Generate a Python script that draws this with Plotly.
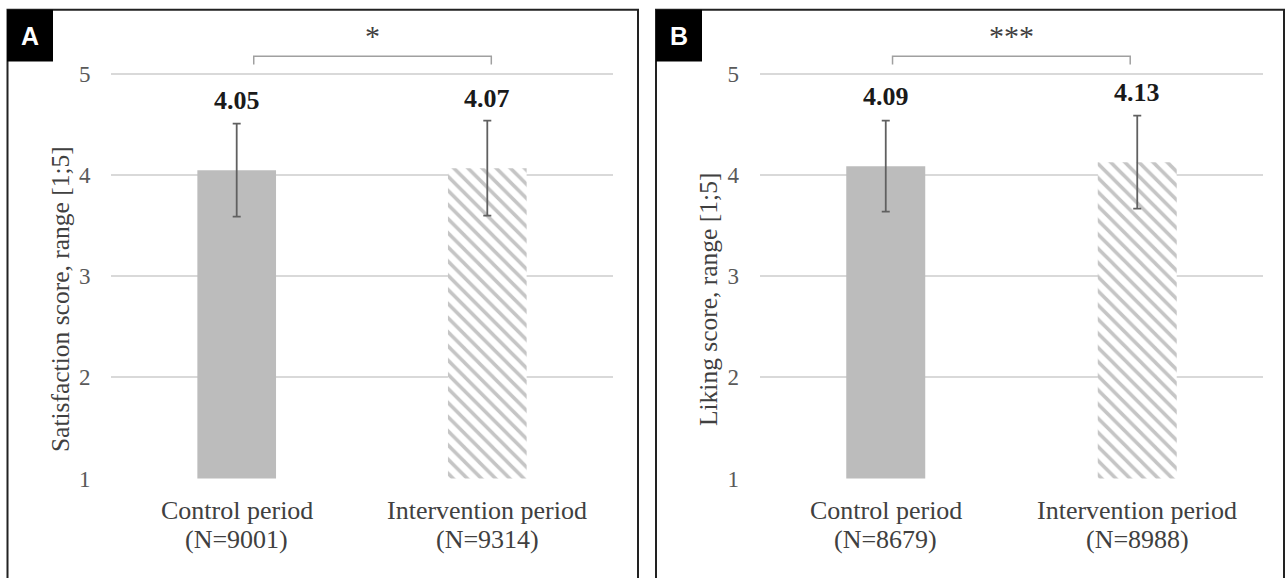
import plotly.graph_objects as go

# ---- data ----
categories = ["Control period", "Intervention period"]
n_satisfaction = ["(N=9001)", "(N=9314)"]
n_liking = ["(N=8679)", "(N=8988)"]
satisfaction_mean = [4.05, 4.07]
satisfaction_sd = [0.46, 0.47]
liking_mean = [4.09, 4.13]
liking_sd = [0.45, 0.46]
significance = ["*", "***"]
panel_letters = ["A", "B"]
y_titles = ["Satisfaction score, range [1;5]", "Liking score, range [1;5]"]
y_ticks = [1, 2, 3, 4, 5]

W, H = 1287, 578
def px(x):
    return x / W
def py(y):
    return 1 - y / H

SERIF = "Liberation Serif, Times New Roman, serif"
SANS = "Liberation Sans, Arial, sans-serif"
TXT = "#404040"

fig = go.Figure()

panels = [
    dict(means=satisfaction_mean, sds=satisfaction_sd, ns=n_satisfaction,
         xa="x", ya="y", dom=(111.4, 612.6), frame=(7.5, 638), box=(7, 53),
         ytitle_x=60, br=(0.068, 1.016)),
    dict(means=liking_mean, sds=liking_sd, ns=n_liking,
         xa="x2", ya="y2", dom=(760.0, 1263.0), frame=(656, 1284), box=(656, 702),
         ytitle_x=708, br=(0.027, 0.972)),
]

shapes = []
annotations = []

for i, p in enumerate(panels):
    for j, c in enumerate(categories):
        if j == 0:
            marker = dict(color="#bcbcbc", line=dict(width=0))
        else:
            marker = dict(color="#ffffff", line=dict(width=0),
                          pattern=dict(shape="\\", fgcolor="#8c8c8c", bgcolor="#ffffff",
                                       size=10, solidity=0.36, fillmode="overlay"))
        fig.add_trace(go.Bar(
            x=[c], y=[p["means"][j]], xaxis=p["xa"], yaxis=p["ya"],
            width=0.314, marker=marker,
            error_y=dict(type="data", array=[p["sds"][j]], visible=True,
                         color="#606060", thickness=1.8, width=4),
            showlegend=False, hoverinfo="skip",
        ))
    xref = p["xa"]
    yref = p["ya"]
    # value labels
    for c, m in zip(categories, p["means"]):
        annotations.append(dict(
            x=c, y=m + 0.69, xref=xref, yref=yref, text=f"<b>{m:.2f}</b>",
            showarrow=False, font=dict(family=SERIF, size=26, color="#1a1a1a"),
            xanchor="center", yanchor="middle"))
    # x category labels (two lines)
    for c, n in zip(categories, p["ns"]):
        annotations.append(dict(
            x=c, y=py(522), xref=xref, yref="paper", text=c, showarrow=False,
            font=dict(family=SERIF, size=26, color=TXT),
            xanchor="center", yanchor="middle"))
        annotations.append(dict(
            x=c, y=py(552), xref=xref, yref="paper", text=n, showarrow=False,
            font=dict(family=SERIF, size=26, color=TXT),
            xanchor="center", yanchor="middle"))
    # y title
    annotations.append(dict(
        x=px(p["ytitle_x"]), y=py(306), xref="paper", yref="paper",
        text=y_titles[i], textangle=-90, showarrow=False,
        font=dict(family=SERIF, size=25.5, color=TXT),
        xanchor="center", yanchor="middle"))
    # significance bracket
    x0, x1 = p["br"]
    shapes.append(dict(
        type="path", xref=xref, yref=yref,
        path=f"M {x0},5.097 L {x0},5.177 L {x1},5.177 L {x1},5.097",
        line=dict(color="#a0a0a0", width=1.5)))
    annotations.append(dict(
        x=(x0 + x1) / 2, y=5.38, xref=xref, yref=yref, text=significance[i],
        showarrow=False, font=dict(family=SERIF, size=30, color=TXT),
        xanchor="center", yanchor="middle"))
    # panel frame (left, top, right)
    fl, fr = p["frame"]
    shapes.append(dict(type="path", xref="paper", yref="paper",
                       path=f"M {px(fl)},{py(600)} L {px(fl)},{py(10)} L {px(fr)},{py(10)} L {px(fr)},{py(600)}",
                       line=dict(color="#222222", width=2)))
    # panel label box
    bl, brx = p["box"]
    shapes.append(dict(type="rect", xref="paper", yref="paper",
                       x0=px(bl), x1=px(brx), y0=py(63), y1=py(10),
                       fillcolor="#000000", line=dict(width=0)))
    annotations.append(dict(
        x=px((bl + brx) / 2), y=py(37), xref="paper", yref="paper",
        text=f"<b>{panel_letters[i]}</b>", showarrow=False,
        font=dict(family=SANS, size=25, color="#ffffff"),
        xanchor="center", yanchor="middle"))

ydom = [py(489.5), py(24.2)]
yaxis_common = dict(range=[1, 5.5], tickvals=y_ticks, showgrid=True,
                    gridcolor="#d9d9d9", gridwidth=2, zeroline=False,
                    showline=False, ticks="", ticklabelstandoff=20,
                    tickfont=dict(family=SERIF, size=23, color="#595959"),
                    domain=ydom, fixedrange=True)
xaxis_common = dict(showticklabels=False, showgrid=False, zeroline=False,
                    showline=False, ticks="", range=[-0.5, 1.5],
                    categoryorder="array", categoryarray=categories)

fig.update_layout(
    width=W, height=H, autosize=False,
    margin=dict(l=0, r=0, t=0, b=0),
    paper_bgcolor="white", plot_bgcolor="white",
    barmode="overlay",
    xaxis=dict(domain=[px(panels[0]["dom"][0]), px(panels[0]["dom"][1])], anchor="y", **xaxis_common),
    xaxis2=dict(domain=[px(panels[1]["dom"][0]), px(panels[1]["dom"][1])], anchor="y2", **xaxis_common),
    yaxis=dict(anchor="x", **yaxis_common),
    yaxis2=dict(anchor="x2", **yaxis_common),
    shapes=shapes,
    annotations=annotations,
)

fig.write_html("out.html")
